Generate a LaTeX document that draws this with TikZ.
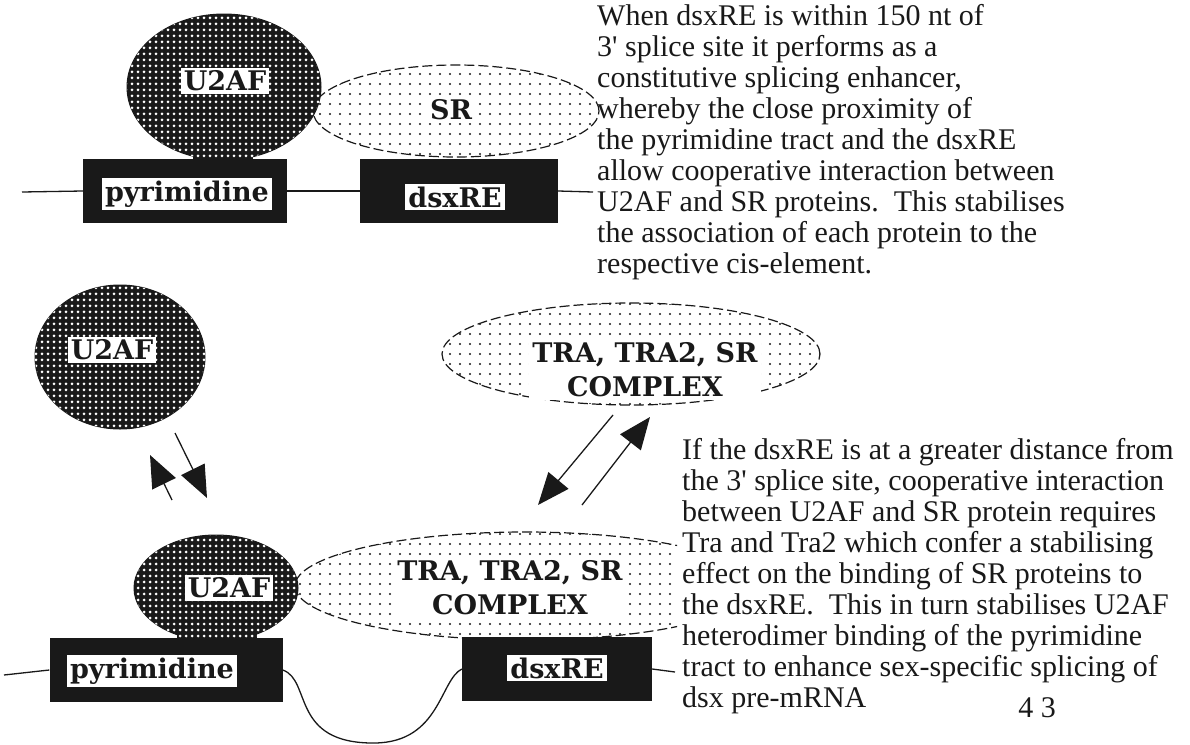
\documentclass[tikz,border=0pt]{standalone}
\usepackage{fontspec}
\setmainfont{Liberation Serif}
\newfontfamily\slabfont{DejaVu Serif}
\usepackage{tikz}
\usetikzlibrary{arrows.meta,positioning,shapes.geometric,patterns.meta}
\definecolor{inkblack}{RGB}{25,25,25}
\tikzset{
  u2afblob/.style={
    ellipse,
    draw=inkblack,
    line width=1pt,
    fill=inkblack,
    postaction={pattern={Dots[distance=6pt,radius=1.5pt]}, pattern color=white},
    inner sep=0pt
  },
  u2afneck/.style={fill=inkblack, postaction={pattern={Dots[distance=6pt,radius=1.5pt]}, pattern color=white}},
  srblob/.style={
    ellipse,
    draw=inkblack,
    dashed,
    dash pattern=on 10pt off 4pt,
    line width=1.2pt,
    pattern={Dots[distance=10pt,radius=1.1pt]},
    pattern color=inkblack,
    inner sep=0pt
  },
  elementbox/.style={rectangle, fill=inkblack, minimum height=64pt, inner sep=0pt},
  tagtext/.style={fill=white, inner sep=3pt, text=inkblack, font=\slabfont\bfseries\fontsize{27}{34}\selectfont},
  bodytext/.style={anchor=north west, align=left, inner sep=0pt, text=inkblack, font=\fontsize{30}{31}\selectfont},
  strandline/.style={line width=1.3pt, draw=inkblack},
  exchangearrow/.style={-{Triangle[length=32pt,width=26pt]}, line width=1.3pt, draw=inkblack}
}

\begin{document}
\begin{tikzpicture}[x=1pt,y=-1pt]
    \useasboundingbox (0,0) rectangle (1190,744);

    % close dsxRE: U2AF and SR side by side
    \node[srblob, minimum width=286pt, minimum height=92pt] (srtop) at (456,111) {};
    \node[tagtext] (srtoptag) at (451,110) {SR};
    \node[u2afblob, minimum width=194pt, minimum height=146pt] (u2top) at (224,87) {};
    \path[u2afneck] (193,145) rectangle (253,160);
    \node[tagtext] (u2toptag) at (225,81) {U2AF};

    \coordinate (strandtopin) at (22,192);
    \coordinate (strandtopout) at (593,192);
    \node[elementbox, minimum width=204pt] (pyrtop) at (185,191) {};
    \node[elementbox, minimum width=198pt] (dsxtop) at (459,191) {};
    \node[tagtext] (pyrtoptag) at (187,194) {pyrimidine};
    \node[tagtext] (dsxtoptag) at (455,197) {dsxRE};

    \draw[strandline] (strandtopin) -- (pyrtop.west);
    \draw[strandline] (pyrtop.east) -- (dsxtop.west);
    \draw[strandline] (dsxtop.east) -- (strandtopout);

    \node[bodytext] (captop) at (597,4) {When dsxRE is within 150 nt of\\
      3\textquotesingle{} splice site it performs as a\\
      constitutive splicing enhancer,\\
      whereby the close proximity of\\
      the pyrimidine tract and the dsxRE\\
      allow cooperative interaction between\\
      U2AF and SR proteins.\ \ This stabilises\\
      the association of each protein to the\\
      respective cis-element.};

    % free proteins
    \node[u2afblob, minimum width=170pt, minimum height=144pt] (u2free) at (120,357) {};
    \node[tagtext] (u2freetag) at (112,350) {U2AF};
    \node[srblob, minimum width=378pt, minimum height=102pt] (cxfree) at (631,354) {};
    \node[tagtext, align=center] (cxfreetag) at (645,370) {TRA, TRA2, SR\\COMPLEX};

    \coordinate (u2offtail) at (175,433);
    \coordinate (u2offtip) at (207,498);
    \coordinate (u2ontail) at (172,500);
    \coordinate (u2ontip) at (150,455);
    \coordinate (cxofftail) at (613,415);
    \coordinate (cxofftip) at (538,505);
    \coordinate (cxontail) at (582,505);
    \coordinate (cxontip) at (650,417);
    \draw[exchangearrow] (u2offtail) -- (u2offtip);
    \draw[exchangearrow] (u2ontail) -- (u2ontip);
    \draw[exchangearrow] (cxofftail) -- (cxofftip);
    \draw[exchangearrow] (cxontail) -- (cxontip);

    % distant dsxRE: complex bridges the loop
    \begin{scope}
      \clip (0,0) rectangle (677,744);
      \node[srblob, minimum width=460pt, minimum height=108pt] (cxbound) at (525,586) {};
    \end{scope}
    \node[tagtext, align=center] (cxboundtag) at (510,588) {TRA, TRA2, SR\\COMPLEX};
    \node[u2afblob, minimum width=164pt, minimum height=106pt] (u2bound) at (216,588) {};
    \path[u2afneck] (177,628) rectangle (257,640);
    \node[tagtext] (u2boundtag) at (229,588) {U2AF};

    \coordinate (strandboundin) at (4,675);
    \coordinate (strandboundout) at (675,672);
    \node[elementbox, minimum width=233pt] (pyrbound) at (166,670) {};
    \node[elementbox, minimum width=190pt] (dsxbound) at (557,669) {};
    \node[tagtext] (pyrboundtag) at (152,671) {pyrimidine};
    \node[tagtext] (dsxboundtag) at (557,668) {dsxRE};

    \draw[strandline] (strandboundin) -- (pyrbound.west);
    \draw[strandline] (dsxbound.east) -- (strandboundout);
    \draw[strandline] (pyrbound.east) .. controls (312,680) and (290,744) .. (375,743)
      .. controls (440,742) and (440,680) .. (dsxbound.west);

    \node[bodytext] (capbound) at (682,438) {If the dsxRE is at a greater distance from\\
      the 3\textquotesingle{} splice site, cooperative interaction\\
      between U2AF and SR protein requires\\
      Tra and Tra2 which confer a stabilising\\
      effect on the binding of SR proteins to\\
      the dsxRE.\ \ This in turn stabilises U2AF\\
      heterodimer binding of the pyrimidine\\
      tract to enhance sex-specific splicing of\\
      dsx pre-mRNA};
    \node[font=\fontsize{30}{31}\selectfont, text=inkblack] (pagenum) at (1037,708) {4 3};
  \end{tikzpicture}
\end{document}
